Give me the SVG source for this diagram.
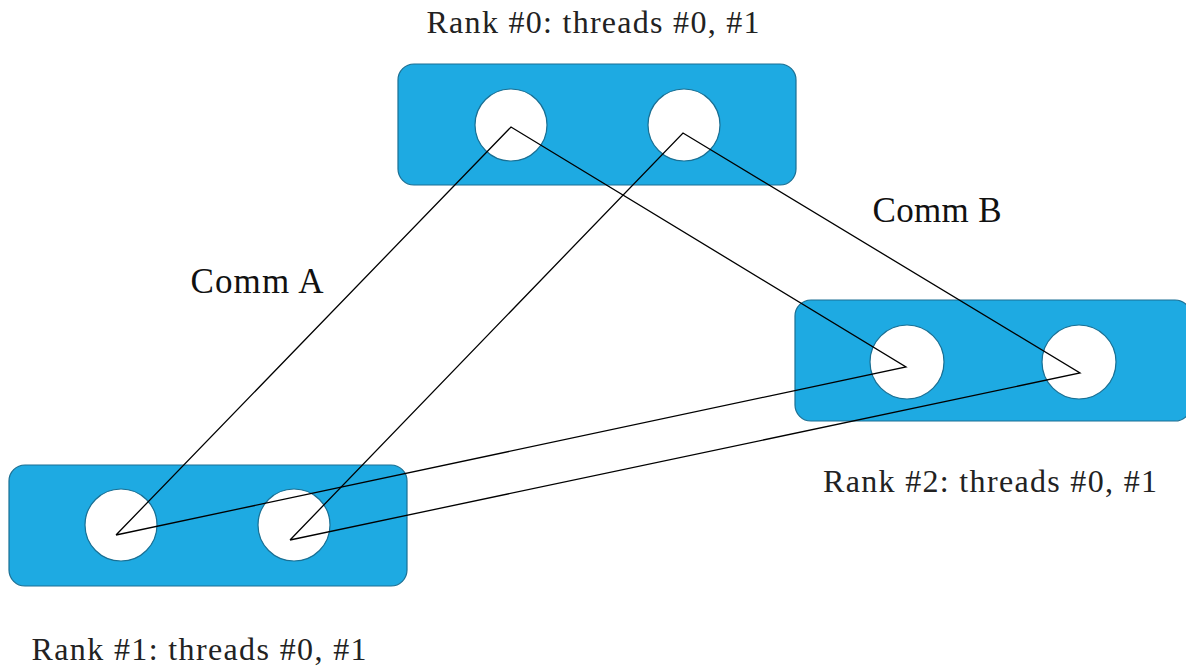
<svg xmlns="http://www.w3.org/2000/svg" width="1186" height="668" viewBox="0 0 1186 668">
<style>
.box{fill:#1eaae2;stroke:#1a6f93;stroke-width:1.2}
.th{fill:#ffffff;stroke:#1a6f93;stroke-width:1.2}
.lbl{font-family:"Liberation Serif","DejaVu Serif",serif;font-size:32px;fill:#222;text-anchor:middle}
.comm{font-family:"Liberation Serif","DejaVu Serif",serif;font-size:35px;fill:#111;text-anchor:middle}
.ln{fill:none;stroke:#000;stroke-width:1.3}
</style>
<rect width="1186" height="668" fill="#ffffff"/>
<g id="rank0">
<rect class="box" x="398" y="64" width="398" height="121" rx="16"/>
<circle class="th" cx="511" cy="125" r="36"/>
<circle class="th" cx="684" cy="125" r="36"/>
<text class="lbl" x="593" y="33" textLength="333" lengthAdjust="spacing">Rank #0: threads #0, #1</text>
</g>
<g id="rank2">
<rect class="box" x="795" y="300" width="396" height="121" rx="16"/>
<circle class="th" cx="907" cy="362" r="37"/>
<circle class="th" cx="1079" cy="362" r="37"/>
<text class="lbl" x="990" y="492" textLength="334" lengthAdjust="spacing">Rank #2: threads #0, #1</text>
</g>
<g id="rank1">
<rect class="box" x="9" y="465" width="398" height="121" rx="16"/>
<circle class="th" cx="121" cy="525" r="36"/>
<circle class="th" cx="294" cy="525" r="36"/>
<text class="lbl" x="199" y="660" textLength="335" lengthAdjust="spacing">Rank #1: threads #0, #1</text>
</g>
<g id="connectors">
<polyline class="ln" points="116,535 511,127 906,367 116,535"/>
<polyline class="ln" points="290,540 683,133 1080,373 290,540"/>
</g>
<g id="labels">
<text class="comm" x="257" y="293" textLength="133" lengthAdjust="spacing">Comm A</text>
<text class="comm" x="937" y="222" textLength="129" lengthAdjust="spacing">Comm B</text>
</g>
</svg>
